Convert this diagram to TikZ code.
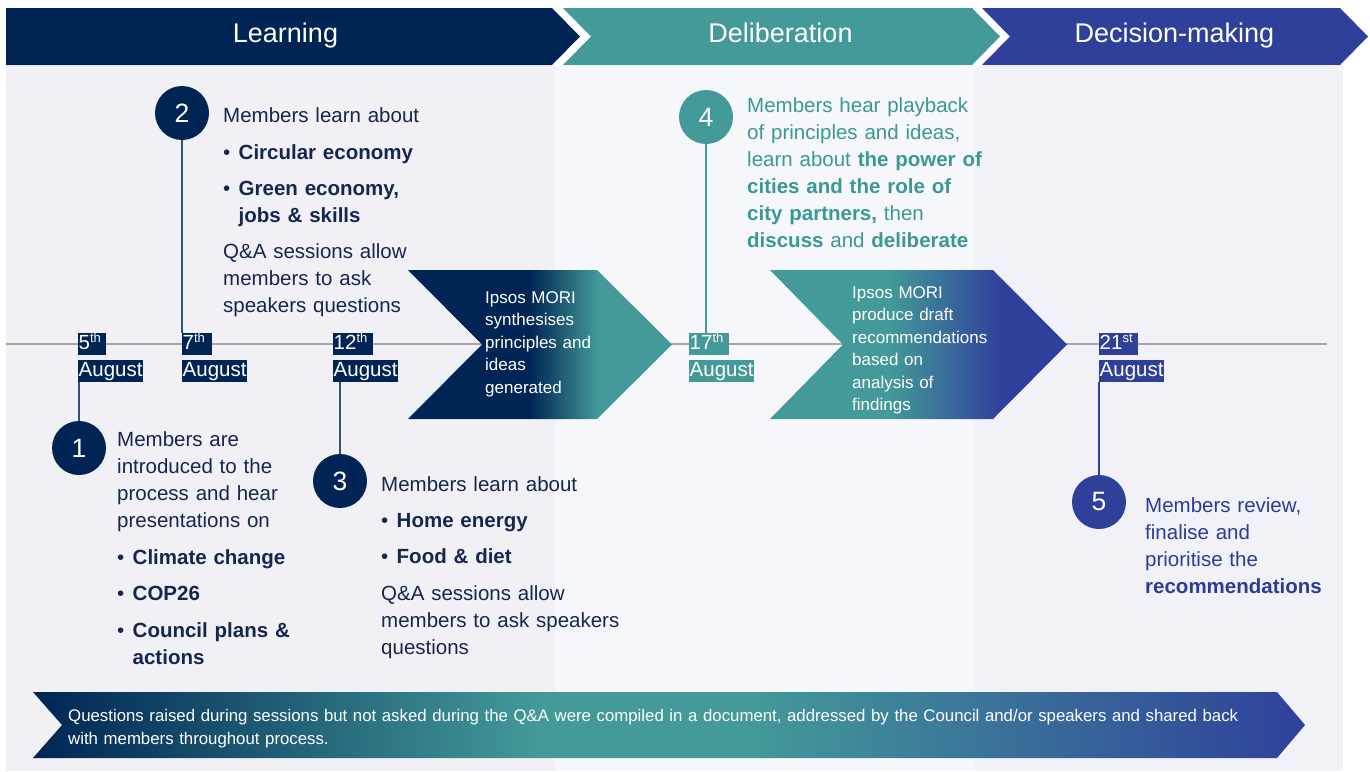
\documentclass[tikz,border=0pt]{standalone}
\usepackage{fontspec}
\setmainfont{Liberation Sans}
\definecolor{navy}{RGB}{0,37,84}
\definecolor{tealc}{RGB}{67,154,152}
\definecolor{bluec}{RGB}{47,64,155}
\definecolor{txtnavy}{RGB}{22,38,78}
\definecolor{txtteal}{RGB}{60,152,148}
\definecolor{txtblue}{RGB}{44,60,150}
\definecolor{panelA}{RGB}{240,240,245}
\definecolor{panelB}{RGB}{245,247,250}
\definecolor{panelC}{RGB}{241,242,248}
\definecolor{tline}{RGB}{166,166,166}
\pgfdeclarehorizontalshading{shA}{100bp}{color(0bp)=(navy); color(48bp)=(navy); color(61bp)=(tealc); color(100bp)=(tealc)}
\pgfdeclarehorizontalshading{shB}{100bp}{color(0bp)=(tealc); color(45bp)=(tealc); color(64bp)=(bluec); color(100bp)=(bluec)}
\pgfdeclarehorizontalshading{shC}{100bp}{color(0bp)=(navy); color(25bp)=(navy); color(45bp)=(tealc); color(53bp)=(tealc); color(75bp)=(bluec); color(100bp)=(bluec)}
\newcommand\fBody{\fontsize{20.5}{27}\selectfont}
\newcommand\fChev{\fontsize{17}{22.5}\selectfont}
\newcommand\fBan{\fontsize{16.8}{23}\selectfont}
\newcommand\fHead{\fontsize{27}{32}\selectfont}
\newcommand\fNum{\fontsize{26.5}{30}\selectfont}
\newcommand\fDate{\fontsize{20.5}{22}\selectfont}
\newcommand\mybul{\makebox[15.5pt][l]{•}}
\newcommand\myind{\hspace*{15.5pt}}
\newcommand\mysup[1]{\raisebox{7pt}{\fontsize{13}{13}\selectfont #1}}
\tikzset{
  headtxt/.style={text=white, font=\fHead, anchor=base, inner sep=0pt},
  numc/.style={circle, fill=#1, text=white, minimum size=54pt, inner sep=0pt, font=\fNum},
  datebox/.style={fill=#1, text=white, font=\fDate, inner xsep=0.5pt, inner ysep=1pt, text height=15.5pt, text depth=4.5pt, anchor=north west},
  vline/.style={draw=#1, line width=1.3pt},
  bodytxt/.style={text=#1, font=\fBody, align=left, anchor=base west, inner sep=0pt},
  chevtxt/.style={text=white, font=\fChev, align=left, anchor=base west, inner sep=0pt},
}
\begin{document}
\begin{tikzpicture}[x=1pt, y=-1pt]
\useasboundingbox (0,0) rectangle (1370,771);
\fill[white] (0,0) rectangle (1370,771);
% panels
\fill[panelA] (6,66) rectangle (555,771);
\fill[panelB] (555,66) rectangle (975,771);
\fill[panelC] (975,66) rectangle (1343,771);
% header chevrons
\fill[navy] (6,8) -- (552,8) -- (580,36.5) -- (552,65) -- (6,65) -- cycle;
\fill[tealc] (563,8) -- (972,8) -- (1000,36.5) -- (972,65) -- (563,65) -- (591,36.5) -- cycle;
\fill[bluec] (982,8) -- (1340,8) -- (1368,36.5) -- (1340,65) -- (982,65) -- (1010,36.5) -- cycle;
\node[headtxt] (hL) at (285.5,42) {Learning};
\node[headtxt] (hD) at (780.5,42) {Deliberation};
\node[headtxt] (hM) at (1174.5,42) {Decision-making};
% timeline
\coordinate (tlS) at (6,344);
\coordinate (tlE) at (1327,344);
\draw[tline, line width=1.5pt] (tlS) -- (tlE);
% process chevrons
\shade[shading=shA] (408,270) -- (597,270) -- (672,344.5) -- (597,419) -- (408,419) -- (482,344.5) -- cycle;
\shade[shading=shB] (770,270) -- (993,270) -- (1067,344.5) -- (993,419) -- (770,419) -- (843,344.5) -- cycle;
\node[chevtxt, text width=115pt] (tA) at (485,303) {Ipsos MORI\\synthesises\\principles and\\ideas\\generated};
\node[chevtxt, text width=140pt] (tB) at (852,298) {Ipsos MORI\\produce draft\\recommendations\\based on\\analysis of\\findings};
% bottom banner
\shade[shading=shC] (33,692) -- (1277,692) -- (1305,725) -- (1277,758) -- (33,758) -- (62,725) -- cycle;
\node[text=white, font=\fBan, align=left, anchor=base west, inner sep=0pt, text width=1200pt] (tC) at (68,721) {Questions raised during sessions but not asked during the Q\&A were compiled in a document, addressed by the Council and/or speakers and shared back\\with members throughout process.};
% date boxes
\node[datebox=navy, text width=27pt] (d5a) at (78,333) {5\mysup{th}};
\node[datebox=navy] (d5b) at (78,359.5) {August};
\node[datebox=navy, text width=29pt] (d7a) at (182,333) {7\mysup{th}};
\node[datebox=navy] (d7b) at (182,359.5) {August};
\node[datebox=navy, text width=39pt] (d12a) at (333,333) {12\mysup{th}};
\node[datebox=navy] (d12b) at (333,359.5) {August};
\node[datebox=tealc, text width=39pt] (d17a) at (689,333) {17\mysup{th}};
\node[datebox=tealc] (d17b) at (689,359.5) {August};
\node[datebox=bluec, text width=38pt] (d21a) at (1099,333) {21\mysup{st}};
\node[datebox=bluec] (d21b) at (1099,359.5) {August};
% circles
\node[numc=navy] (c1) at (79,448) {1};
\node[numc=navy] (c2) at (182,113) {2};
\node[numc=navy] (c3) at (340,481) {3};
\node[numc=tealc] (c4) at (706,117) {4};
\node[numc=bluec] (c5) at (1099,502) {5};
% connectors
\draw[vline=navy!80] (c1.north) -- (c1.north |- d5b.south);
\draw[vline=navy!80] (c2.south) -- (c2.south |- d7a.north);
\draw[vline=navy!80] (c3.north) -- (c3.north |- d12b.south);
\draw[vline=tealc] (c4.south) -- (c4.south |- d17a.north);
\draw[vline=bluec] (c5.north) -- (c5.north |- d21b.south);
% text blocks
\node[bodytxt=txtnavy, text width=185pt] (t1) at (117,446) {Members are\\introduced to the\\process and hear\\presentations on\\[10pt]\mybul\textbf{Climate change}\\[9pt]\mybul\textbf{COP26}\\[10pt]\mybul\textbf{Council plans \&}\\\myind\textbf{actions}};
\node[bodytxt=txtnavy, text width=205pt] (t2) at (223,122) {Members learn about\\[10pt]\mybul\textbf{Circular economy}\\[9pt]\mybul\textbf{Green economy,}\\\myind\textbf{jobs \& skills}\\[9pt]Q\&A sessions allow\\members to ask\\speakers questions};
\node[bodytxt=txtnavy, text width=245pt] (t3) at (381,491) {Members learn about\\[9pt]\mybul\textbf{Home energy}\\[9pt]\mybul\textbf{Food \& diet}\\[10pt]Q\&A sessions allow\\members to ask speakers\\questions};
\node[bodytxt=txtteal, text width=245pt] (t4) at (747,112) {Members hear playback\\of principles and ideas,\\learn about \textbf{the power of}\\\textbf{cities and the role of}\\\textbf{city partners,} then\\\textbf{discuss} and \textbf{deliberate}};
\node[bodytxt=txtblue, text width=185pt] (t5) at (1145,512) {Members review,\\finalise and\\prioritise the\\\textbf{recommendations}};
\end{tikzpicture}
\end{document}
